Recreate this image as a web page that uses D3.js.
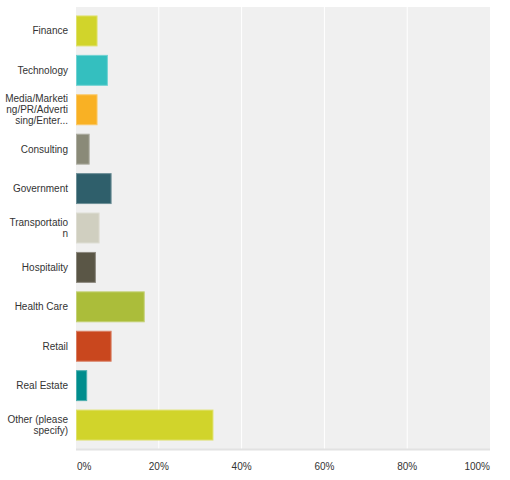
<!DOCTYPE html>
<html>
<head>
<meta charset="utf-8">
<script src="https://cdn.jsdelivr.net/npm/d3@7"></script>
<style>
    body { margin: 0; background: #fff; }
    text { font-family: Arial, "Liberation Sans", sans-serif; font-size: 10px; fill: #333; }
</style>
</head>
<body>
<svg id="chart" width="510" height="480"></svg>
<script>
// survey answers, share of respondents (%)
const categories = ["Finance", "Technology", "Media/Marketing/PR/Advertising/Entertainment", "Consulting",
    "Government", "Transportation", "Hospitality", "Health Care", "Retail", "Real Estate", "Other (please specify)"];
// how the labels are wrapped/cut in the original
const labelLines = [["Finance"], ["Technology"], ["Media/Marketi", "ng/PR/Adverti", "sing/Enter..."], ["Consulting"],
    ["Government"], ["Transportatio", "n"], ["Hospitality"], ["Health Care"], ["Retail"], ["Real Estate"],
    ["Other (please", "specify)"]];
const values = [5.2, 7.7, 5.2, 3.3, 8.6, 5.7, 4.8, 16.6, 8.6, 2.7, 33.2];
const colours = ["#d1d42b", "#34bfbf", "#f9b124", "#8a8a78", "#2f5f6b", "#d0cfc0", "#5a5646",
    "#abbd3a", "#c9471e", "#008d8d", "#d1d42b"];
const ticks = [0, 20, 40, 60, 80, 100];

const svg = d3.select("#chart");
const plotLeft = 76, plotRight = 490, plotTop = 7, plotBottom = 449;

const x = d3.scaleLinear().domain([0, 100]).range([plotLeft, plotRight]);
const y = d3.scaleBand().domain(categories).range([plotTop, plotBottom]).padding(0.215);

// plot background
svg.append("rect")
    .attr("x", plotLeft).attr("y", plotTop)
    .attr("width", plotRight - plotLeft).attr("height", plotBottom - plotTop)
    .attr("fill", "#f0f0f0");

// grid
svg.append("g")
    .selectAll("line")
    .data(ticks.slice(1, -1))
    .enter()
    .append("line")
    .attr("x1", d => x(d)).attr("x2", d => x(d))
    .attr("y1", plotTop).attr("y2", plotBottom)
    .attr("stroke", "#fff")
    .attr("stroke-width", 1);

// bottom edge
svg.append("line")
    .attr("x1", plotLeft).attr("x2", plotRight)
    .attr("y1", plotBottom + 0.5).attr("y2", plotBottom + 0.5)
    .attr("stroke", "#e2e2e2")
    .attr("stroke-width", 2);

// bars
svg.append("g")
    .selectAll("rect")
    .data(categories)
    .enter()
    .append("rect")
    .attr("x", x(0) + 0.5)
    .attr("y", d => y(d) + 0.5)
    .attr("width", (d, i) => x(values[i]) - x(0) - 1)
    .attr("height", y.bandwidth() - 1)
    .attr("fill", (d, i) => colours[i])
    .attr("stroke", (d, i) => d3.interpolateRgb(colours[i], "#fff")(0.3))
    .attr("stroke-width", 1);

// category labels
const lineH = 11;
const labels = svg.append("g")
    .selectAll("text")
    .data(categories)
    .enter()
    .append("text")
    .attr("text-anchor", "end")
    .attr("y", d => y(d) + y.bandwidth() / 2);

labels.each(function (d, i) {
    const lines = labelLines[i];
    const offset = -(lines.length - 1) * lineH / 2;
    d3.select(this).selectAll("tspan")
        .data(lines)
        .enter()
        .append("tspan")
        .attr("x", 68)
        .attr("dy", (l, j) => j === 0 ? offset + 3.5 : lineH)
        .text(l => l);
});

// x tick labels
svg.append("g")
    .selectAll("text")
    .data(ticks)
    .enter()
    .append("text")
    .attr("x", d => d === 0 ? x(d) + 1 : x(d))
    .attr("y", 470)
    .attr("text-anchor", (d, i) => i === 0 ? "start" : (i === ticks.length - 1 ? "end" : "middle"))
    .text(d => d + "%");
</script>
</body>
</html>
